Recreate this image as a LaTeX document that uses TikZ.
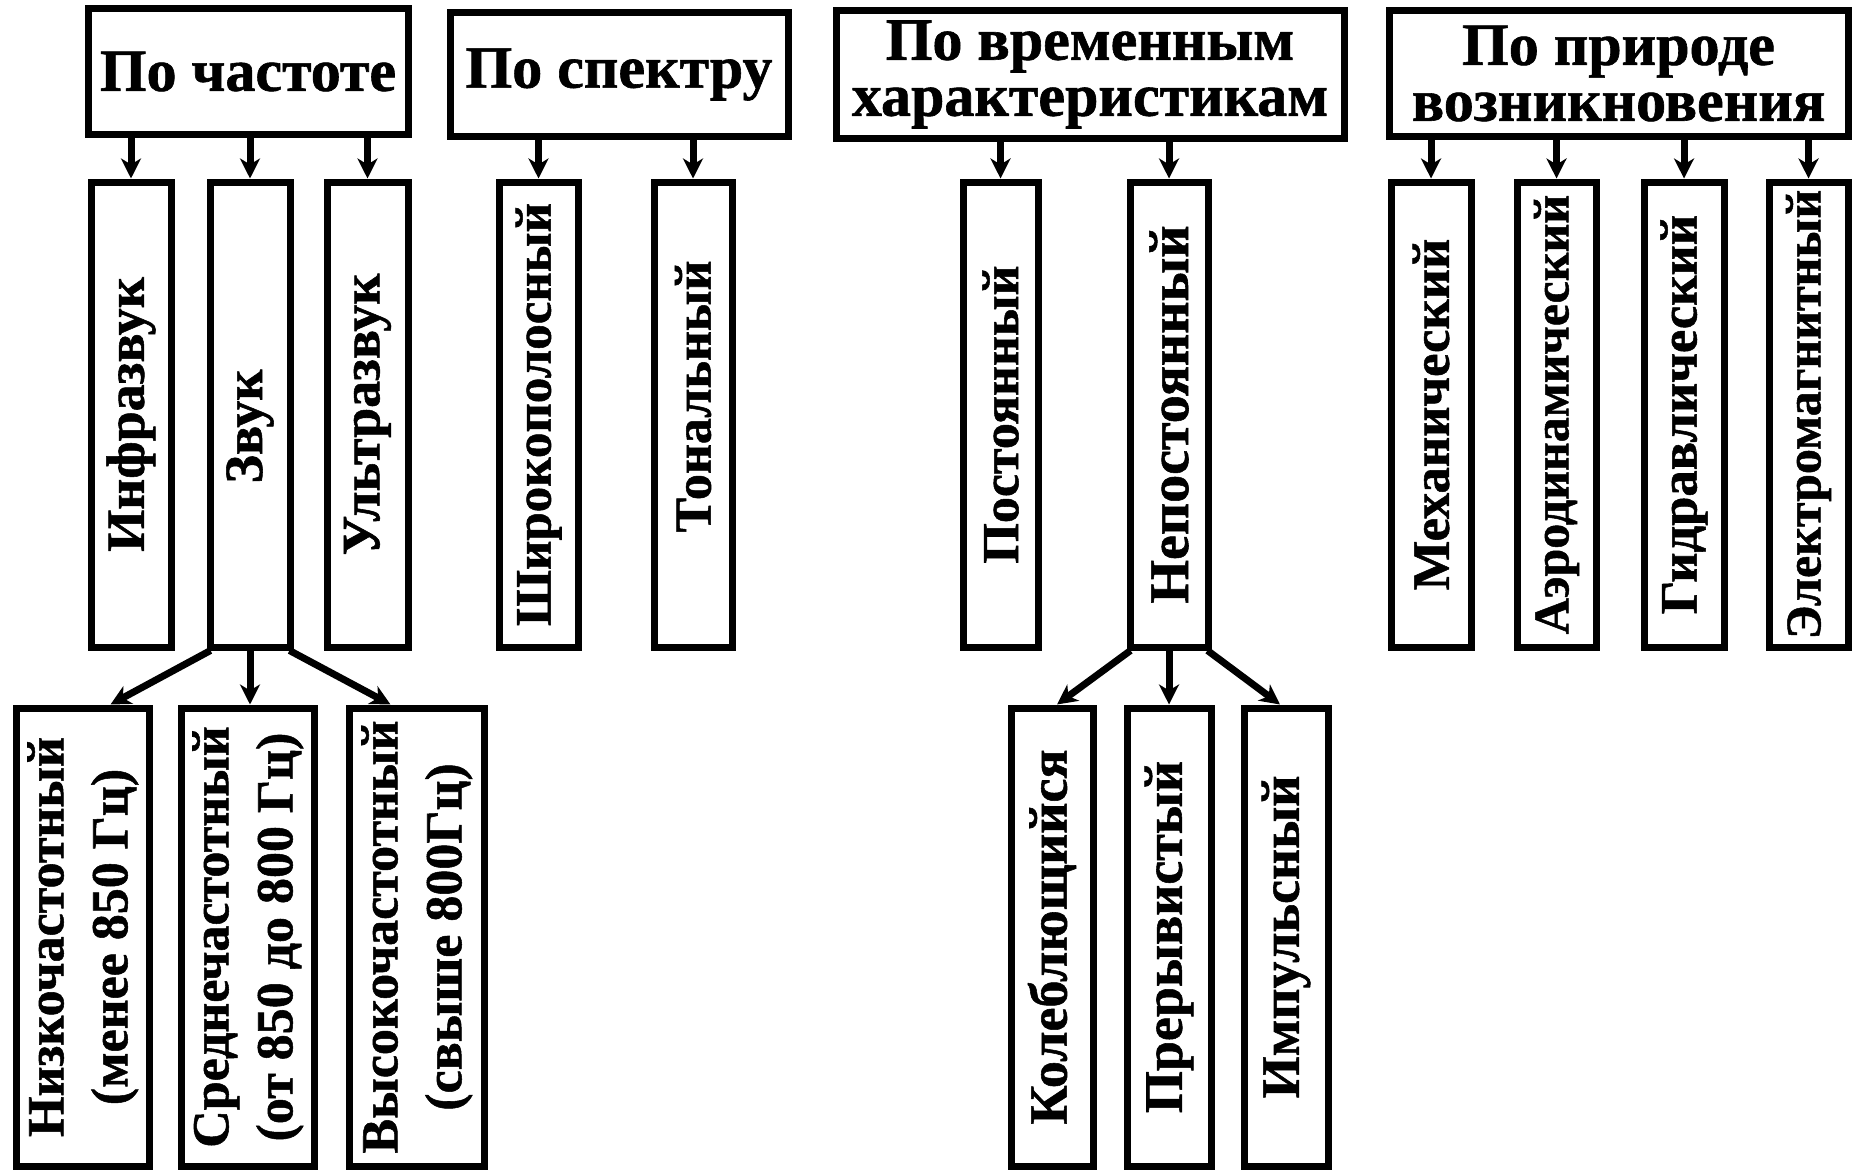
\documentclass[tikz,border=0pt]{standalone}
\usepackage{fontspec}
\setmainfont{Liberation Serif}[BoldFeatures={FakeBold=1}]
\usetikzlibrary{arrows.meta,calc}
\begin{document}
\begin{tikzpicture}[x=0.5pt,y=-0.5pt,
  sz/.style 2 args={minimum width=#1*0.5pt, minimum height=#2*0.5pt},
  box/.style={draw, line width=3.5pt, inner sep=0pt, fill=white},
  head/.style={box, font=\fontsize{30}{28}\selectfont\bfseries, align=center},
  vbox/.style={box, font=\fontsize{27}{32}\selectfont\bfseries},
  fs/.style={font=\fontsize{#1}{32}\selectfont\bfseries},
  arr/.style={line width=3.5pt, -{Stealth[length=10pt,width=10pt,inset=3pt]}},
]
\useasboundingbox (0,0) rectangle (1855,1172);

% headings
\node[head, sz={320}{125}] (pc) at (248,71.5) {По частоте};
\node[head, sz={338}{123}] (ps) at (619,74.5) {По спектру};
\node[head, sz={508}{127}] (pv) at (1090,74.5) {По временным\\характеристикам};
\node[head, sz={459}{125}] (pp) at (1618.5,73.5) {По природе\\возникновения};

% first row
\node[vbox, sz={80}{465}] (inf)    at (131,414.5)    {\rotatebox{90}{Инфразвук}};
\node[vbox, sz={80}{465}] (zvuk)   at (250,414.5)    {\rotatebox{90}{Звук\hspace*{12pt}}};
\node[vbox, sz={81}{465}] (ultra)  at (367.5,414.5)  {\rotatebox{90}{Ультразвук}};
\node[vbox, fs=25.5, sz={79}{465}] (shir)   at (538.5,414.5)  {\rotatebox{90}{Широкополосный}};
\node[vbox, fs=26, sz={78}{465}] (ton)    at (693,414.5)    {\rotatebox{90}{\hspace*{18pt}Тональный}};
\node[vbox, fs=26, sz={75}{465}] (post)   at (1000.5,414.5) {\rotatebox{90}{Постоянный}};
\node[vbox, fs=28, sz={78}{465}] (nepost) at (1169,414.5)   {\rotatebox{90}{Непостоянный}};
\node[vbox, fs=26.3, sz={80}{465}] (mech)   at (1431,414.5)   {\rotatebox{90}{Механический}};
\node[vbox, fs=25, sz={79}{465}] (aero)   at (1556.5,414.5) {\rotatebox{90}{Аэродинамический}};
\node[vbox, fs=26.3, sz={80}{465}] (gidr)   at (1684,414.5)   {\rotatebox{90}{Гидравлический}};
\node[vbox, fs=25, sz={79}{465}] (elec)   at (1808.5,414.5) {\rotatebox{90}{Электромагнитный}};

% second row
\node[vbox, fs=26, sz={133}{458}] (nizk) at (82.5,937)  {\rotatebox{90}{\begin{tabular}{@{}c@{}}Низкочастотный\\(менее 850 Гц)\end{tabular}}};
\node[vbox, fs=26, sz={133}{458}] (sred) at (247.5,937) {\rotatebox{90}{\begin{tabular}{@{}c@{}}Среднечастотный\\(от 850 до 800 Гц)\end{tabular}}};
\node[vbox, fs=26, sz={135}{458}] (vys)  at (416.5,937) {\rotatebox{90}{\begin{tabular}{@{}c@{}}Высокочастотный\\(свыше 800Гц)\end{tabular}}};
\node[vbox, sz={82}{458}]  (kol)  at (1052,937)  {\rotatebox{90}{Колеблющийся}};
\node[vbox, sz={84}{458}]  (prer) at (1169,937)  {\rotatebox{90}{Прерывистый}};
\node[vbox, sz={84}{458}]  (imp)  at (1286,937)  {\rotatebox{90}{Импульсный}};

% arrows from headings
\foreach \p/\c in {pc/inf, pc/zvuk, pc/ultra, ps/shir, ps/ton, pv/post, pv/nepost, pp/mech, pp/aero, pp/gidr, pp/elec}
  \draw[arr] (\c.north |- \p.south) -- (\c.north);

% fan arrows
\draw[arr] ([xshift=2pt]zvuk.south west) -- ($(nizk.north)+(28,0)$);
\draw[arr] (zvuk.south) -- (zvuk.south |- sred.north);
\draw[arr] ([xshift=-2pt]zvuk.south east) -- ($(vys.north)+(-26,0)$);
\draw[arr] ([xshift=2pt]nepost.south west) -- ($(kol.north)+(5,0)$);
\draw[arr] (nepost.south) -- (prer.north);
\draw[arr] ([xshift=-2pt]nepost.south east) -- ($(imp.north)+(-6,0)$);
\end{tikzpicture}
\end{document}
